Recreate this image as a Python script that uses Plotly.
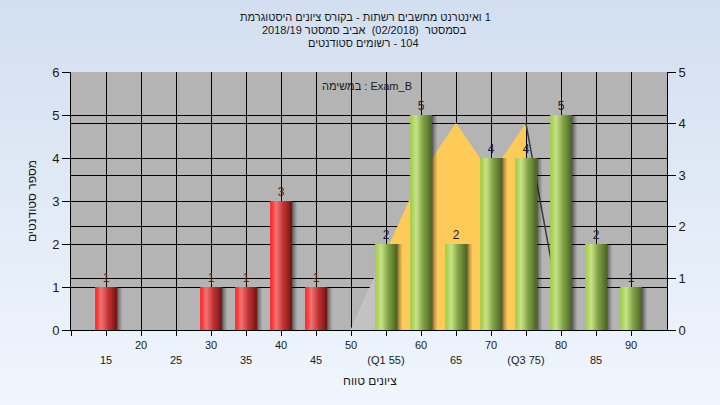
import base64
import plotly.graph_objects as go

# ---------------- data ----------------
grades = [15, 20, 25, 30, 35, 40, 45, 50, 55, 60, 65, 70, 75, 80, 85, 90]
counts = [1, 0, 0, 1, 1, 3, 1, 0, 2, 5, 2, 4, 4, 5, 2, 1]
tick_labels = ["15", "20", "25", "30", "35", "40", "45", "50",
               "(Q1 55)", "60", "65", "70", "(Q3 75)", "80", "85", "90"]
curve_x = [50, 55, 60, 65, 70, 75, 80]
curve_y = [0, 1.5, 3, 4, 3, 4, 0.3]
q1, q3 = 55, 75
fail_below = 50

LRM, LRE, PDF = "\u200e", "\u202a", "\u202c"
def ltr_words(tokens):
    # words laid out left-to-right (as in the reference), each Hebrew word kept intact
    return LRE + LRM + " ".join(t + LRM for t in tokens) + PDF

title_lines = [
    ltr_words(["היסטוגרמת", "ציונים", "בקורס", "-", "רשתות", "מחשבים", "ואינטרנט", "1"]),
    ltr_words(["2018/19", "סמסטר", "אביב", " (02/2018) ", "בסמסטר"]),
    ltr_words(["סטודנטים", "רשומים", "-", "104"]),
]
task_label = "במשימה : Exam_B"
x_title = ltr_words(["טווח", "ציונים"])
y_title = "מספר סטודנטים"

FONT = "Liberation Sans, Arial, DejaVu Sans, sans-serif"

# ---------------- geometry ----------------
W, H = 720, 405
ML, MR, MT, MB = 71, 53, 72, 75
PW, PH = W - ML - MR, H - MT - MB

fig = go.Figure()

# ---- distribution curve (main y axis, right side 0..5) ----
i1 = curve_x.index(q1)
i3 = curve_x.index(q3)
fig.add_trace(go.Scatter(x=curve_x[:i1 + 1], y=curve_y[:i1 + 1], mode="lines",
                         fill="tozeroy", fillcolor="#c2c2c2",
                         line=dict(color="#cacaca", width=1),
                         hoverinfo="skip", showlegend=False, yaxis="y"))
fig.add_trace(go.Scatter(x=curve_x[i1:i3 + 1], y=curve_y[i1:i3 + 1], mode="lines",
                         fill="tozeroy", fillcolor="#ffcb58",
                         line=dict(color="#ffcb58", width=1),
                         hoverinfo="skip", showlegend=False, yaxis="y"))
fig.add_trace(go.Scatter(x=curve_x[i3:], y=curve_y[i3:], mode="lines",
                         line=dict(color="#3c3c3c", width=1.5),
                         hoverinfo="skip", showlegend=False, yaxis="y"))

# ---- bars (overlay axis y2, left side 0..6) ----
BW = 3.1

def lerp_stops(stops, t):
    for (t0, c0), (t1, c1) in zip(stops, stops[1:]):
        if t <= t1:
            f = 0 if t1 == t0 else (t - t0) / (t1 - t0)
            return tuple(int(round(a + (b - a) * f)) for a, b in zip(c0, c1))
    return stops[-1][1]

red_stops = [(0, (255, 28, 28)), (0.28, (242, 118, 118)), (0.6, (196, 52, 52)), (1, (118, 20, 20))]
green_stops = [(0, (158, 204, 66)), (0.28, (200, 226, 136)), (0.6, (128, 162, 68)), (1, (78, 102, 38))]

# soft shadows
for d, a in [(0.15, 0.30), (0.35, 0.22), (0.55, 0.15), (0.75, 0.09)]:
    fig.add_trace(go.Bar(x=grades, y=counts, width=BW, offset=-BW / 2 + d,
                         marker=dict(color="rgba(25,25,25,%.2f)" % a, line=dict(width=0)),
                         hoverinfo="skip", showlegend=False, yaxis="y2"))

# cylinder gradient built from stacked strips
N = 18
sw = BW / N
for i in range(N):
    t = (i + 0.5) / N
    cr = "rgb(%d,%d,%d)" % lerp_stops(red_stops, t)
    cg = "rgb(%d,%d,%d)" % lerp_stops(green_stops, t)
    cols = [cr if g < fail_below else cg for g in grades]
    fig.add_trace(go.Bar(x=grades, y=counts, width=BW - i * sw, offset=-BW / 2 + i * sw,
                         marker=dict(color=cols, line=dict(width=0)),
                         hoverinfo="skip", showlegend=False, yaxis="y2"))

# value labels
lx = [g for g, c in zip(grades, counts) if c > 0]
ly = [c for c in counts if c > 0]
lc = ["#5a2418" if g < fail_below else "#1c1c30" for g in lx]
fig.add_trace(go.Scatter(x=lx, y=ly, text=[str(v) for v in ly], mode="markers+text",
                         marker=dict(size=2, opacity=0),
                         textposition="top center",
                         textfont=dict(family=FONT, size=12, color=lc),
                         cliponaxis=False, hoverinfo="skip", showlegend=False, yaxis="y2"))

# ---------------- background ----------------
svg = ('<svg xmlns="http://www.w3.org/2000/svg" width="720" height="405">'
       '<defs><linearGradient id="g" x1="0" y1="0" x2="0" y2="1">'
       '<stop offset="0" stop-color="#d2dff0"/><stop offset="1" stop-color="#f0f6fd"/>'
       '</linearGradient></defs><rect width="720" height="405" fill="url(#g)"/></svg>')
src = "data:image/svg+xml;base64," + base64.b64encode(svg.encode()).decode()

def px_x(p):
    return (p - ML) / PW

def px_y(p):
    return (MT + PH - p) / PH

annotations = []
title_left = [238, 260, 306]
for k, line in enumerate(title_lines):
    annotations.append(dict(text=line, x=px_x(title_left[k]), y=px_y(17 + 13 * k),
                            xref="paper", yref="paper", xanchor="left", yanchor="middle",
                            showarrow=False, font=dict(family=FONT, size=11, color="#1a1a1a")))
annotations.append(dict(text=task_label, x=52.3, y=px_y(86), xref="x", yref="paper",
                        xanchor="center", yanchor="middle", showarrow=False,
                        font=dict(family=FONT, size=11, color="#1a1a1a")))
annotations.append(dict(text=x_title, x=px_x(341), y=px_y(381), xref="paper", yref="paper",
                        xanchor="left", yanchor="middle", showarrow=False,
                        font=dict(family=FONT, size=12, color="#1a1a1a")))

tickvals = [10] + grades
ticktext = [""] + [("<br>" + t) if i % 2 == 0 else t for i, t in enumerate(tick_labels)]

axis_common = dict(showline=True, linecolor="black", linewidth=1, ticks="outside",
                   tickcolor="black", zeroline=False, showgrid=True, gridcolor="black",
                   gridwidth=1, automargin=False)

fig.update_layout(
    width=W, height=H,
    margin=dict(l=ML, r=MR, t=MT, b=MB),
    paper_bgcolor="#e2ebf7",
    plot_bgcolor="rgba(0,0,0,0)",
    barmode="overlay",
    showlegend=False,
    font=dict(family=FONT, color="#1a1a1a"),
    images=[dict(source=src, xref="paper", yref="paper", x=-ML / PW, y=1 + MT / PH,
                 sizex=W / PW, sizey=H / PH, xanchor="left", yanchor="top",
                 sizing="stretch", layer="below")],
    shapes=[dict(type="rect", xref="paper", yref="paper", x0=0, x1=1, y0=0, y1=1,
                 fillcolor="#b4b4b4", line=dict(width=0), layer="below")],
    annotations=annotations,
    xaxis=dict(range=[10, 10 + PW / 7], tickmode="array", tickvals=tickvals, ticktext=ticktext,
               ticklen=5, tickfont=dict(size=11, color="#1a1a1a"), **axis_common),
    yaxis=dict(range=[0, 5], dtick=1, side="right", ticklen=8,
               tickfont=dict(size=13, color="#1a1a1a"), **axis_common),
    yaxis2=dict(range=[0, 6], dtick=1, side="left", overlaying="y", ticklen=8,
                tickfont=dict(size=13, color="#1a1a1a"),
                title=dict(text=y_title, font=dict(size=12, color="#1a1a1a"), standoff=12),
                **axis_common),
)

fig.write_html("out.html", config={"displayModeBar": False})
with open("out.html", encoding="utf-8") as f:
    html = f.read()
html = html.replace("<head>", "<head><style>html,body{margin:0;padding:0;}</style>", 1)
with open("out.html", "w", encoding="utf-8") as f:
    f.write(html)
